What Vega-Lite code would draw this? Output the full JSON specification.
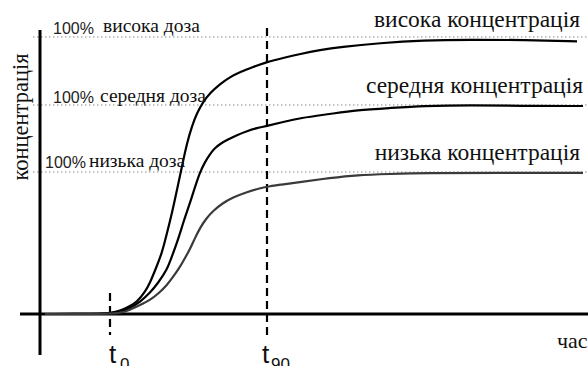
{
  "$schema": "https://vega.github.io/schema/vega-lite/v6.json",
  "width": 588,
  "height": 366,
  "padding": 0,
  "autosize": {"type": "none"},
  "background": "white",
  "config": {"view": {"stroke": null}},
  "datasets": {
    "curves": [
      {"dose": "висока", "t": 0.5, "c": 0},
      {"dose": "висока", "t": 4.0, "c": 0},
      {"dose": "висока", "t": 6.0, "c": 0},
      {"dose": "висока", "t": 7.0, "c": 0.015},
      {"dose": "висока", "t": 8.0, "c": 0.044},
      {"dose": "висока", "t": 9.0, "c": 0.118},
      {"dose": "висока", "t": 9.7, "c": 0.176},
      {"dose": "висока", "t": 10.5, "c": 0.324},
      {"dose": "висока", "t": 11.0, "c": 0.456},
      {"dose": "висока", "t": 11.6, "c": 0.676},
      {"dose": "висока", "t": 12.2, "c": 0.897},
      {"dose": "висока", "t": 12.7, "c": 1.191},
      {"dose": "висока", "t": 13.2, "c": 1.485},
      {"dose": "висока", "t": 13.7, "c": 1.824},
      {"dose": "висока", "t": 14.2, "c": 2.176},
      {"dose": "висока", "t": 14.7, "c": 2.515},
      {"dose": "висока", "t": 15.2, "c": 2.765},
      {"dose": "висока", "t": 15.7, "c": 2.956},
      {"dose": "висока", "t": 16.3, "c": 3.118},
      {"dose": "висока", "t": 17.0, "c": 3.25},
      {"dose": "висока", "t": 18.0, "c": 3.382},
      {"dose": "висока", "t": 19.0, "c": 3.485},
      {"dose": "висока", "t": 20.0, "c": 3.559},
      {"dose": "висока", "t": 21.3, "c": 3.632},
      {"dose": "висока", "t": 22.7, "c": 3.706},
      {"dose": "висока", "t": 24.3, "c": 3.765},
      {"dose": "висока", "t": 26.0, "c": 3.824},
      {"dose": "висока", "t": 28.0, "c": 3.882},
      {"dose": "висока", "t": 30.0, "c": 3.926},
      {"dose": "висока", "t": 34.0, "c": 3.985},
      {"dose": "висока", "t": 38.3, "c": 4.025},
      {"dose": "висока", "t": 43.0, "c": 4.035},
      {"dose": "висока", "t": 48.3, "c": 4.029},
      {"dose": "висока", "t": 53.7, "c": 4.01},
      {"dose": "середня", "t": 0.5, "c": 0},
      {"dose": "середня", "t": 6.0, "c": 0},
      {"dose": "середня", "t": 7.2, "c": 0.015},
      {"dose": "середня", "t": 8.0, "c": 0.029},
      {"dose": "середня", "t": 9.0, "c": 0.088},
      {"dose": "середня", "t": 10.0, "c": 0.176},
      {"dose": "середня", "t": 11.0, "c": 0.309},
      {"dose": "середня", "t": 11.8, "c": 0.456},
      {"dose": "середня", "t": 12.7, "c": 0.647},
      {"dose": "середня", "t": 13.2, "c": 0.853},
      {"dose": "середня", "t": 13.8, "c": 1.088},
      {"dose": "середня", "t": 14.4, "c": 1.382},
      {"dose": "середня", "t": 15.0, "c": 1.632},
      {"dose": "середня", "t": 15.5, "c": 1.868},
      {"dose": "середня", "t": 16.0, "c": 2.088},
      {"dose": "середня", "t": 16.5, "c": 2.235},
      {"dose": "середня", "t": 17.0, "c": 2.353},
      {"dose": "середня", "t": 17.5, "c": 2.441},
      {"dose": "середня", "t": 18.0, "c": 2.5},
      {"dose": "середня", "t": 18.7, "c": 2.559},
      {"dose": "середня", "t": 19.7, "c": 2.632},
      {"dose": "середня", "t": 20.7, "c": 2.691},
      {"dose": "середня", "t": 21.7, "c": 2.735},
      {"dose": "середня", "t": 22.7, "c": 2.765},
      {"dose": "середня", "t": 24.3, "c": 2.824},
      {"dose": "середня", "t": 26.0, "c": 2.882},
      {"dose": "середня", "t": 29.0, "c": 2.941},
      {"dose": "середня", "t": 31.7, "c": 3.0},
      {"dose": "середня", "t": 35.0, "c": 3.029},
      {"dose": "середня", "t": 38.3, "c": 3.059},
      {"dose": "середня", "t": 43.0, "c": 3.074},
      {"dose": "середня", "t": 48.0, "c": 3.059},
      {"dose": "середня", "t": 54.3, "c": 3.059},
      {"dose": "низька", "t": 0.5, "c": 0},
      {"dose": "низька", "t": 7.0, "c": 0},
      {"dose": "низька", "t": 8.0, "c": 0.015},
      {"dose": "низька", "t": 9.0, "c": 0.059},
      {"dose": "низька", "t": 10.0, "c": 0.132},
      {"dose": "низька", "t": 11.0, "c": 0.206},
      {"dose": "низька", "t": 11.8, "c": 0.294},
      {"dose": "низька", "t": 12.7, "c": 0.426},
      {"dose": "низька", "t": 13.3, "c": 0.544},
      {"dose": "низька", "t": 14.0, "c": 0.691},
      {"dose": "низька", "t": 14.5, "c": 0.824},
      {"dose": "низька", "t": 15.0, "c": 0.956},
      {"dose": "низька", "t": 15.5, "c": 1.118},
      {"dose": "низька", "t": 16.0, "c": 1.265},
      {"dose": "низька", "t": 16.6, "c": 1.4},
      {"dose": "низька", "t": 17.3, "c": 1.515},
      {"dose": "низька", "t": 18.2, "c": 1.625},
      {"dose": "низька", "t": 19.3, "c": 1.715},
      {"dose": "низька", "t": 20.6, "c": 1.79},
      {"dose": "низька", "t": 22.0, "c": 1.85},
      {"dose": "низька", "t": 23.0, "c": 1.88},
      {"dose": "низька", "t": 24.0, "c": 1.9},
      {"dose": "низька", "t": 26.0, "c": 1.941},
      {"dose": "низька", "t": 29.0, "c": 2.0},
      {"dose": "низька", "t": 31.7, "c": 2.044},
      {"dose": "низька", "t": 35.0, "c": 2.059},
      {"dose": "низька", "t": 38.3, "c": 2.074},
      {"dose": "низька", "t": 46.0, "c": 2.074},
      {"dose": "низька", "t": 54.3, "c": 2.074}
    ],
    "levels": [
      {"t": -0.7, "t2": 54.8, "c": 4.074, "c2": 4.074},
      {"t": -0.7, "t2": 54.8, "c": 3.074, "c2": 3.074},
      {"t": -0.7, "t2": 54.8, "c": 2.088, "c2": 2.088}
    ],
    "axes": [
      {"t": 0, "t2": 0, "c": 4.176, "c2": -0.603},
      {"t": -2, "t2": 54.8, "c": 0, "c2": 0}
    ],
    "markers": [
      {"t": 7.0, "t2": 7.0, "c": 0.309, "c2": -0.309},
      {"t": 22.7, "t2": 22.7, "c": 4.206, "c2": -0.382}
    ],
    "pct": [
      {"t": 1.3, "c": 4.118, "label": "100%"},
      {"t": 1.3, "c": 3.103, "label": "100%"},
      {"t": 0.5, "c": 2.147, "label": "100%"}
    ],
    "doseLabels": [
      {"t": 6.3, "c": 4.147, "label": "висока доза"},
      {"t": 6.0, "c": 3.118, "label": "середня доза"},
      {"t": 4.9, "c": 2.167, "label": "низька доза"}
    ],
    "concLabels": [
      {"t": 54.0, "c": 4.221, "label": "висока концентрація"},
      {"t": 54.3, "c": 3.25, "label": "середня концентрація"},
      {"t": 54.0, "c": 2.265, "label": "низька концентрація"}
    ],
    "tMain": [
      {"t": 6.9, "c": -0.72, "label": "t"},
      {"t": 22.2, "c": -0.72, "label": "t"}
    ],
    "tSub": [
      {"t": 8.0, "c": -0.82, "label": "0"},
      {"t": 23.1, "c": -0.82, "label": "90"}
    ]
  },
  "encoding": {
    "x": {"field": "t", "type": "quantitative", "axis": null, "scale": {"domain": [-4, 54.8], "nice": false, "zero": false}},
    "y": {"field": "c", "type": "quantitative", "axis": null, "scale": {"domain": [-0.7647, 4.6176], "nice": false, "zero": false}}
  },
  "layer": [
    {
      "data": {"name": "levels"},
      "mark": {"type": "rule", "color": "#8c8c8c", "strokeWidth": 1, "strokeDash": [1.5, 2.5]},
      "encoding": {"x2": {"field": "t2"}, "y2": {"field": "c2"}}
    },
    {
      "data": {"name": "axes"},
      "mark": {"type": "rule", "color": "#000000", "strokeWidth": 3},
      "encoding": {"x2": {"field": "t2"}, "y2": {"field": "c2"}}
    },
    {
      "data": {"name": "markers"},
      "mark": {"type": "rule", "color": "#000000", "strokeWidth": 2.2, "strokeDash": [8, 5]},
      "encoding": {"x2": {"field": "t2"}, "y2": {"field": "c2"}}
    },
    {
      "data": {"name": "curves"},
      "mark": {"type": "line", "interpolate": "basis"},
      "encoding": {
        "detail": {"field": "dose", "type": "nominal"},
        "color": {"field": "dose", "type": "nominal", "legend": null, "scale": {"domain": ["висока", "середня", "низька"], "range": ["#000000", "#000000", "#3a3a3a"]}},
        "strokeWidth": {"field": "dose", "type": "nominal", "legend": null, "scale": {"domain": ["висока", "середня", "низька"], "range": [2.2, 2.2, 1.4]}}
      }
    },
    {
      "data": {"name": "pct"},
      "mark": {"type": "text", "font": "Liberation Sans", "fontSize": 16, "align": "left", "baseline": "alphabetic", "color": "#222222"},
      "encoding": {"text": {"field": "label"}}
    },
    {
      "data": {"name": "doseLabels"},
      "mark": {"type": "text", "font": "Liberation Serif", "fontSize": 19.5, "align": "left", "baseline": "alphabetic", "color": "#111111"},
      "encoding": {"text": {"field": "label"}}
    },
    {
      "data": {"name": "concLabels"},
      "mark": {"type": "text", "font": "Liberation Serif", "fontSize": 23.5, "align": "right", "baseline": "alphabetic", "color": "#111111"},
      "encoding": {"text": {"field": "label"}}
    },
    {
      "data": {"values": [{"t": -1.9, "c": 2.897, "label": "концентрація"}]},
      "mark": {"type": "text", "font": "Liberation Serif", "fontSize": 22.5, "angle": 270, "align": "center", "baseline": "middle", "color": "#111111"},
      "encoding": {"text": {"field": "label"}}
    },
    {
      "data": {"values": [{"t": 51.7, "c": -0.5, "label": "час"}]},
      "mark": {"type": "text", "font": "Liberation Serif", "fontSize": 22, "align": "left", "baseline": "alphabetic", "color": "#111111"},
      "encoding": {"text": {"field": "label"}}
    },
    {
      "data": {"name": "tMain"},
      "mark": {"type": "text", "font": "Liberation Sans", "fontSize": 26, "align": "left", "baseline": "alphabetic", "color": "#111111"},
      "encoding": {"text": {"field": "label"}}
    },
    {
      "data": {"name": "tSub"},
      "mark": {"type": "text", "font": "Liberation Sans", "fontSize": 17, "align": "left", "baseline": "alphabetic", "color": "#111111"},
      "encoding": {"text": {"field": "label"}}
    }
  ]
}
